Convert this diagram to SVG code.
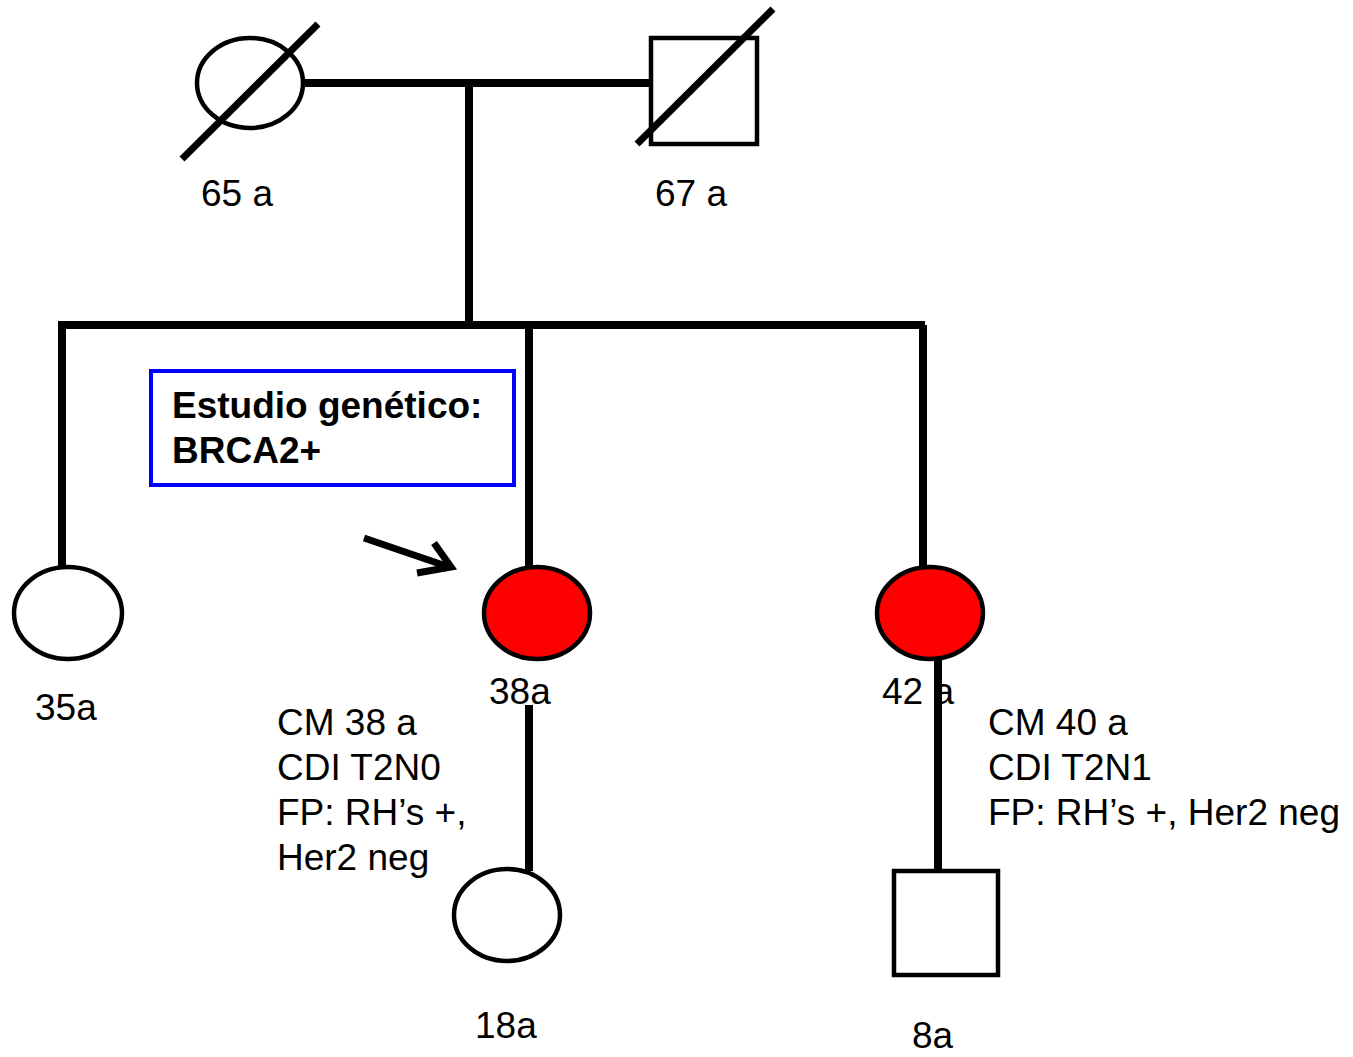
<svg xmlns="http://www.w3.org/2000/svg" width="1353" height="1057" viewBox="0 0 1353 1057">
<style>
.ln{stroke:#000;stroke-width:8;fill:none}
.sh{stroke:#000;stroke-width:4.5;fill:#fff}
.aff{fill:#ff0000}
.sl{stroke:#000;stroke-width:7}
.t{font-family:"Liberation Sans",Arial,sans-serif;font-size:37px;fill:#000}
.b{font-weight:bold}
</style>
<rect width="1353" height="1057" fill="#fff"/>
<g id="connectors">
<line class="ln" x1="303" y1="83" x2="651" y2="83"/>
<line class="ln" x1="469" y1="83" x2="469" y2="326"/>
<line class="ln" x1="58" y1="325" x2="925" y2="325"/>
<line class="ln" x1="62" y1="322" x2="62" y2="568"/>
<line class="ln" x1="529" y1="325" x2="529" y2="568"/>
<line class="ln" x1="923" y1="325" x2="923" y2="568"/>
<line class="ln" x1="529" y1="705" x2="529" y2="871"/>
<line class="ln" x1="938" y1="658" x2="938" y2="870"/>
</g>
<g id="n65">
<ellipse class="sh" cx="250" cy="83" rx="53" ry="45"/>
<line class="sl" x1="182" y1="159" x2="318" y2="24"/>
<text class="t" x="201" y="206">65 a</text>
</g>
<g id="n67">
<rect class="sh" x="651" y="38" width="106" height="106"/>
<line class="sl" x1="637" y1="144" x2="773" y2="9"/>
<text class="t" x="655" y="206">67 a</text>
</g>
<g id="n35">
<ellipse class="sh" cx="68" cy="613" rx="54" ry="46"/>
<text class="t" x="35" y="720">35a</text>
</g>
<g id="n38">
<ellipse class="sh aff" cx="537" cy="613" rx="53" ry="46"/>
<text class="t" x="489" y="704">38a</text>
<text class="t" x="277" y="735">CM 38 a</text>
<text class="t" x="277" y="780">CDI T2N0</text>
<text class="t" x="277" y="825">FP: RH’s +,</text>
<text class="t" x="277" y="870">Her2 neg</text>
</g>
<g id="n42">
<ellipse class="sh aff" cx="930" cy="613" rx="53" ry="46"/>
<text class="t" x="882" y="704">42 a</text>
<text class="t" x="988" y="735">CM 40 a</text>
<text class="t" x="988" y="780">CDI T2N1</text>
<text class="t" x="988" y="825">FP: RH’s +, Her2 neg</text>
</g>
<g id="n18">
<ellipse class="sh" cx="507" cy="915" rx="53" ry="46"/>
<text class="t" x="475" y="1038">18a</text>
</g>
<g id="n8">
<rect class="sh" x="894" y="871" width="104" height="104"/>
<text class="t" x="912" y="1048">8a</text>
</g>
<g id="note">
<rect x="151" y="371" width="363" height="114" fill="none" stroke="#0000ff" stroke-width="4"/>
<text class="t b" x="172" y="418">Estudio genético:</text>
<text class="t b" x="172" y="463">BRCA2+</text>
</g>
<g id="arrow">
<line class="sl" x1="364" y1="538" x2="449" y2="567"/>
<polyline points="434,543 451,567 417,573" fill="none" stroke="#000" stroke-width="7" stroke-linejoin="miter"/>
</g>
</svg>
